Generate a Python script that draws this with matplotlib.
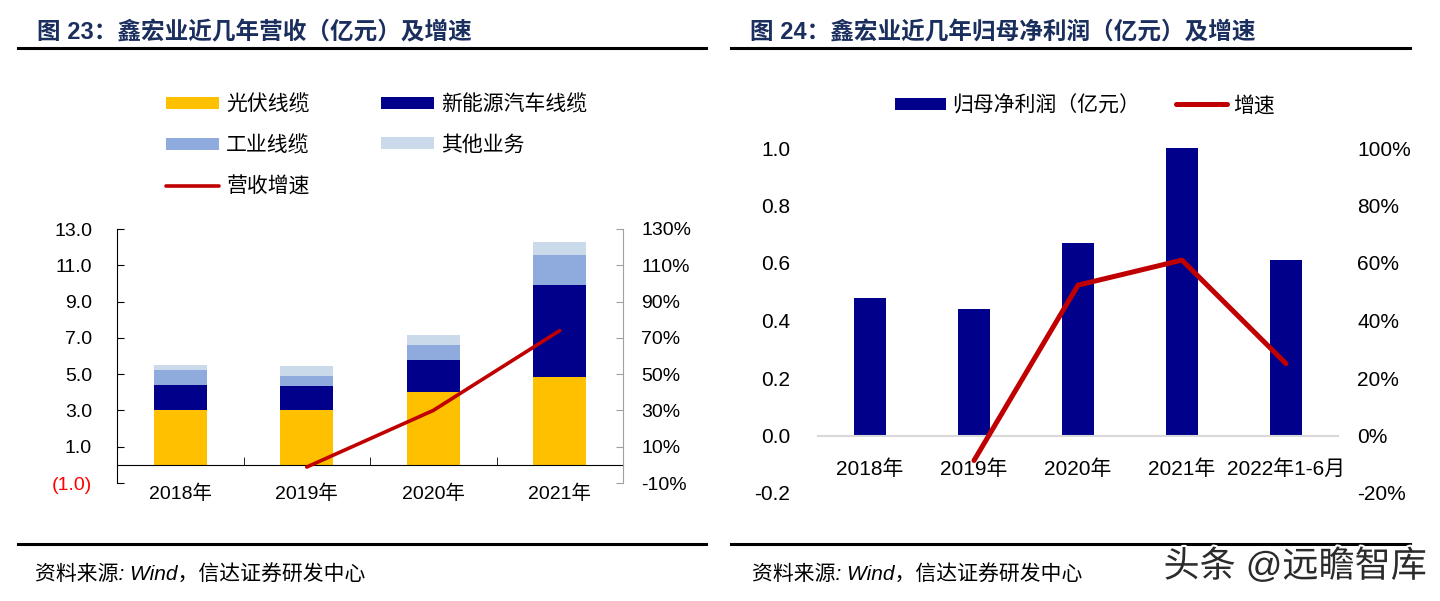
import numpy as np
import matplotlib
matplotlib.use("Agg")
import matplotlib.pyplot as plt
from matplotlib.lines import Line2D
import matplotlib.patheffects as pe

plt.rcParams["font.family"] = ["Liberation Sans", "Noto Sans CJK SC"]

# =====================================================
# Data
# =====================================================
years_rev = ["2018年", "2019年", "2020年", "2021年"]
pv_cable = [3.00, 3.00, 4.03, 4.84]
nev_cable = [1.42, 1.33, 1.77, 5.07]
ind_cable = [0.79, 0.59, 0.79, 1.65]
other_biz = [0.31, 0.55, 0.58, 0.72]
rev_growth = [np.nan, -1.2, 30.0, 74.0]

rev_yticks = [-1, 1, 3, 5, 7, 9, 11, 13]
rev_yticklabels = ["(1.0)", "1.0", "3.0", "5.0", "7.0", "9.0", "11.0", "13.0"]
rev_pct_ticks = [-10, 10, 30, 50, 70, 90, 110, 130]

years_np = ["2018年", "2019年", "2020年", "2021年", "2022年1-6月"]
net_profit = [0.48, 0.44, 0.67, 1.00, 0.61]
np_growth = [np.nan, -8.7, 52.3, 61.0, 25.0]

np_yticks = [-0.2, 0.0, 0.2, 0.4, 0.6, 0.8, 1.0]
np_pct_ticks = [-20, 0, 20, 40, 60, 80, 100]

YELLOW = "#ffc000"
NAVY = "#00008b"
MIDBLUE = "#8faadc"
PALEBLUE = "#cbdaea"
RED = "#c00000"
TITLE = "#1b2f5e"

fig = plt.figure(figsize=(14.4, 6.01), dpi=100)

# =====================================================
# Titles, rules, footers
# =====================================================
fig.text(37 / 1440, 1 - 33 / 601, "图 23：鑫宏业近几年营收（亿元）及增速",
         fontsize=17, fontweight="bold", color=TITLE, va="center")
fig.text(750 / 1440, 1 - 33 / 601, "图 24：鑫宏业近几年归母净利润（亿元）及增速",
         fontsize=17, fontweight="bold", color=TITLE, va="center")
for x0, x1 in [(18, 706), (731, 1410)]:
    for yy in (47.5, 544):
        fig.add_artist(Line2D([x0 / 1440, x1 / 1440], [1 - yy / 601, 1 - yy / 601],
                              color="black", lw=2.2))
fig.text(35 / 1440, 1 - 574 / 601, "资料来源: Wind，信达证券研发中心",
         fontsize=15, style="italic", va="center")
fig.text(752 / 1440, 1 - 574 / 601, "资料来源: Wind，信达证券研发中心",
         fontsize=15, style="italic", va="center")
fig.text(1427 / 1440, 1 - 567 / 601, "头条 @远瞻智库", fontsize=26, color="#2b2b2b",
         ha="right", va="center",
         path_effects=[pe.withStroke(linewidth=3, foreground="white")])

# =====================================================
# Left chart: revenue breakdown
# =====================================================
ax1 = fig.add_axes([117 / 1440, 1 - 483 / 601, (623 - 117) / 1440, (483 - 229) / 601])
x = np.arange(len(years_rev))
bw = 0.42
bottom = np.zeros(len(x))
series = [(pv_cable, YELLOW, "光伏线缆"), (nev_cable, NAVY, "新能源汽车线缆"),
          (ind_cable, MIDBLUE, "工业线缆"), (other_biz, PALEBLUE, "其他业务")]
handles = {}
for vals, col, lab in series:
    h = ax1.bar(x, vals, bw, bottom=bottom, color=col, label=lab, zorder=2)
    handles[lab] = h
    bottom = bottom + np.array(vals)

ax1.set_xlim(-0.5, 3.5)
ax1.set_ylim(-1, 13)
ax1.set_yticks(rev_yticks)
ax1.set_yticklabels(rev_yticklabels)
ax1.get_yticklabels()[0].set_color("#ff0000")
ax1.tick_params(axis="y", direction="in", length=5, pad=18, labelsize=14, color="black")
for s in ["top", "right"]:
    ax1.spines[s].set_visible(False)
ax1.spines["bottom"].set_position(("data", 0))
ax1.spines["bottom"].set_zorder(3)
ax1.set_xticks(x)
ax1.set_xticklabels(years_rev)
ax1.set_xticks([0.5, 1.5, 2.5], minor=True)
ax1.tick_params(axis="x", which="major", length=0, pad=14, labelsize=14)
ax1.tick_params(axis="x", which="minor", direction="in", length=6)

ax1b = ax1.twinx()
ax1b.set_ylim(-10, 130)
ax1b.set_yticks(rev_pct_ticks)
ax1b.set_yticklabels([f"{v}%" for v in rev_pct_ticks])
ax1b.tick_params(axis="y", direction="in", length=5, pad=13, labelsize=14, color="#a0a0a0")
for s in ["top", "left", "bottom"]:
    ax1b.spines[s].set_visible(False)
ax1b.spines["right"].set_color("#a0a0a0")
gline, = ax1b.plot(x, rev_growth, color=RED, lw=2.6, solid_capstyle="round",
                   label="营收增速", zorder=4)

leg1 = ax1.legend(
    [handles["光伏线缆"], handles["工业线缆"], gline, handles["新能源汽车线缆"], handles["其他业务"]],
    ["光伏线缆", "工业线缆", "营收增速", "新能源汽车线缆", "其他业务"],
    ncol=2, loc="upper left", bbox_to_anchor=(166 / 1440, 1 - 94 / 601),
    bbox_transform=fig.transFigure, frameon=False, fontsize=15,
    handlelength=2.55, handleheight=0.5, handletextpad=0.34,
    columnspacing=3.4, labelspacing=1.0, borderpad=0, borderaxespad=0)

# =====================================================
# Right chart: net profit
# =====================================================
ax2 = fig.add_axes([818 / 1440, 1 - 493 / 601, (1338 - 818) / 1440, (493 - 148) / 601])
x2 = np.arange(len(years_np))
bars2 = ax2.bar(x2, net_profit, 0.31, color=NAVY, label="归母净利润（亿元）", zorder=2)
ax2.set_xlim(-0.5, 4.5)
ax2.set_ylim(-0.2, 1.0)
ax2.set_yticks(np_yticks)
ax2.set_yticklabels([f"{v:.1f}" for v in np_yticks])
ax2.tick_params(axis="y", length=0, pad=20, labelsize=15)
for s in ["top", "right", "left"]:
    ax2.spines[s].set_visible(False)
ax2.spines["bottom"].set_position(("data", 0))
ax2.spines["bottom"].set_color("#d9d9d9")
ax2.spines["bottom"].set_linewidth(1.5)
ax2.set_xticks(x2)
ax2.set_xticklabels(years_np)
ax2.tick_params(axis="x", length=0, pad=17, labelsize=15)

ax2b = ax2.twinx()
ax2b.set_ylim(-20, 100)
ax2b.set_yticks(np_pct_ticks)
ax2b.set_yticklabels([f"{v}%" for v in np_pct_ticks])
ax2b.tick_params(axis="y", length=0, pad=14, labelsize=15)
for s in ["top", "right", "left", "bottom"]:
    ax2b.spines[s].set_visible(False)
gline2, = ax2b.plot(x2, np_growth, color=RED, lw=3.6, solid_capstyle="round",
                    label="增速", zorder=4)

ax2.legend([bars2, gline2], ["归母净利润（亿元）", "增速"], ncol=2, loc="upper left",
           bbox_to_anchor=(895 / 1440, 1 - 95 / 601), bbox_transform=fig.transFigure,
           frameon=False, fontsize=15, handlelength=2.45, handleheight=0.55,
           handletextpad=0.3, columnspacing=1.7, borderpad=0, borderaxespad=0)

fig.savefig("out.png", dpi=100)
